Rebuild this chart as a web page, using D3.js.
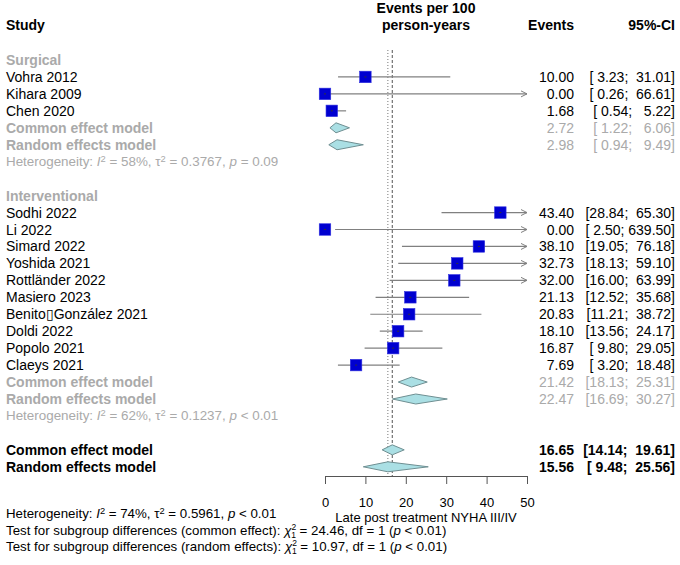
<!DOCTYPE html>
<html>
<head>
<meta charset="utf-8">
<script src="https://cdn.jsdelivr.net/npm/d3@7"></script>
<style>
  body { margin: 0; background: #fff; }
  svg text { font-family: "Liberation Sans", Arial, sans-serif; white-space: pre; }
</style>
</head>
<body>
<div id="chart"></div>
<script>
// forest plot values
const surgicalStudies = ["Vohra 2012", "Kihara 2009", "Chen 2020"];
const surgicalEst   = [10.00, 0.00, 1.68];
const surgicalLower = [3.23, 0.26, 0.54];
const surgicalUpper = [31.01, 66.61, 5.22];

const interventionalStudies = ["Sodhi 2022", "Li 2022", "Simard 2022", "Yoshida 2021", "Rottländer 2022",
    "Masiero 2023", "Benito\u25AFGonzález 2021", "Doldi 2022", "Popolo 2021", "Claeys 2021"];
const interventionalEst   = [43.40, 0.00, 38.10, 32.73, 32.00, 21.13, 20.83, 18.10, 16.87, 7.69];
const interventionalLower = [28.84, 2.50, 19.05, 18.13, 16.00, 12.52, 11.21, 13.56, 9.80, 3.20];
const interventionalUpper = [65.30, 639.50, 76.18, 59.10, 63.99, 35.68, 38.72, 24.17, 29.05, 18.48];

// [estimate, lower, upper]
const surgicalCommon = [2.72, 1.22, 6.06];
const surgicalRandom = [2.98, 0.94, 9.49];
const interventionalCommon = [21.42, 18.13, 25.31];
const interventionalRandom = [22.47, 16.69, 30.27];
const overallCommon = [16.65, 14.14, 19.61];
const overallRandom = [15.56, 9.48, 25.56];

const xTicks = [0, 10, 20, 30, 40, 50];

const W = 680, H = 565;
const svg = d3.select("#chart").append("svg").attr("width", W).attr("height", H);

const x = d3.scaleLinear().domain([0, 50]).range([325, 527]);
const rowY = i => 60 + i * 16.95;
const grey = "#aaaaaa";
const fmt = d3.format(".2f");
const ciText = (lo, hi) => "[" + fmt(lo).padStart(5) + "; " + fmt(hi).padStart(6) + "]";

// rows of the table
const rows = [];
rows.push({ label: "Surgical", kind: "group" });
surgicalStudies.forEach((s, i) => rows.push({ label: s, kind: "study", v: [surgicalEst[i], surgicalLower[i], surgicalUpper[i]] }));
rows.push({ label: "Common effect model", kind: "sub", v: surgicalCommon });
rows.push({ label: "Random effects model", kind: "sub", v: surgicalRandom });
rows.push({ kind: "het", parts: [["Heterogeneity: "], ["I", "i"], ["2", "sup"], [" = 58%, "], ["\u03C4"], ["2", "sup"], [" = 0.3767, "], ["p", "i"], [" = 0.09"]], color: grey });
rows.push({ kind: "blank" });
rows.push({ label: "Interventional", kind: "group" });
interventionalStudies.forEach((s, i) => rows.push({ label: s, kind: "study", v: [interventionalEst[i], interventionalLower[i], interventionalUpper[i]] }));
rows.push({ label: "Common effect model", kind: "sub", v: interventionalCommon });
rows.push({ label: "Random effects model", kind: "sub", v: interventionalRandom });
rows.push({ kind: "het", parts: [["Heterogeneity: "], ["I", "i"], ["2", "sup"], [" = 62%, "], ["\u03C4"], ["2", "sup"], [" = 0.1237, "], ["p", "i"], [" < 0.01"]], color: grey });
rows.push({ kind: "blank" });
rows.push({ label: "Common effect model", kind: "overall", v: overallCommon });
rows.push({ label: "Random effects model", kind: "overall", v: overallRandom });

// reference lines (random dotted, common dashed)
svg.append("line").attr("x1", x(overallRandom[0])).attr("x2", x(overallRandom[0]))
    .attr("y1", 50).attr("y2", 476).attr("stroke", "#777").attr("stroke-dasharray", "1,2");
svg.append("line").attr("x1", x(overallCommon[0])).attr("x2", x(overallCommon[0]))
    .attr("y1", 50).attr("y2", 476).attr("stroke", "#555").attr("stroke-dasharray", "3,2");

// header
const head = svg.append("g").attr("font-weight", "bold").attr("font-size", 14);
head.append("text").attr("x", 6).attr("y", 30).text("Study");
head.append("text").attr("x", 426).attr("y", 13).attr("text-anchor", "middle").text("Events per 100");
head.append("text").attr("x", 426).attr("y", 30).attr("text-anchor", "middle").text("person-years");
head.append("text").attr("x", 574).attr("y", 30).attr("text-anchor", "end").text("Events");
head.append("text").attr("x", 675).attr("y", 30).attr("text-anchor", "end").text("95%-CI");

function richText(g, parts, xPos, yPos, size, color) {
    const t = g.append("text").attr("x", xPos).attr("y", yPos).attr("font-size", size).attr("fill", color);
    parts.forEach(p => {
        const ts = t.append("tspan").text(p[0]);
        if (p[1] === "i") ts.attr("font-style", "italic");
        if (p[1] === "sup") ts.attr("font-size", size * 0.7).attr("baseline-shift", "45%");
    });
    return t;
}

const arrowHead = (g, xe, y) => g.append("path")
    .attr("d", `M${xe - 6},${y - 3}L${xe},${y}L${xe - 6},${y + 3}`)
    .attr("fill", "none").attr("stroke", "#808080");

const body = svg.append("g");
rows.forEach((r, i) => {
    const y = rowY(i);
    if (r.kind === "blank") return;
    if (r.kind === "het") {
        richText(body, r.parts, 6, y + 4, 13.4, r.color);
        return;
    }
    const col = (r.kind === "group" || r.kind === "sub") ? grey : "#000";
    const bold = r.kind !== "study";
    body.append("text").attr("x", 6).attr("y", y + 5).attr("font-size", 14)
        .attr("font-weight", bold ? "bold" : null).attr("fill", col).text(r.label);
    if (!r.v) return;

    const [est, lo, hi] = r.v;
    body.append("text").attr("x", 574).attr("y", y + 5).attr("text-anchor", "end").attr("font-size", 14)
        .attr("font-weight", r.kind === "overall" ? "bold" : null).attr("fill", col).text(fmt(est));
    body.append("text").attr("x", 675).attr("y", y + 5).attr("text-anchor", "end").attr("font-size", 14)
        .attr("font-weight", r.kind === "overall" ? "bold" : null).attr("fill", col).text(ciText(lo, hi));

    if (r.kind === "study") {
        const xe = x(Math.min(hi, 50));
        body.append("line").attr("x1", x(lo)).attr("x2", xe).attr("y1", y).attr("y2", y)
            .attr("stroke", "#808080").attr("stroke-width", 1.2);
        if (hi > 50) arrowHead(body, xe, y);
        const s = 11.5;
        body.append("rect").attr("x", x(est) - s / 2).attr("y", y - s / 2).attr("width", s).attr("height", s)
            .attr("fill", "#0000d0").attr("stroke", "#3030e0").attr("stroke-width", 0.6);
        body.append("line").attr("x1", x(est) - 1).attr("x2", x(est) + 1).attr("y1", y).attr("y2", y)
            .attr("stroke", "#333").attr("stroke-width", 1);
    } else {
        const h = 5;
        body.append("path")
            .attr("d", `M${x(lo)},${y}L${x(est)},${y - h}L${x(hi)},${y}L${x(est)},${y + h}Z`)
            .attr("fill", "#aadfe4").attr("stroke", "#6f8f92").attr("stroke-width", 1);
    }
});

// x axis
const axis = svg.append("g").attr("transform", "translate(0,476)")
    .call(d3.axisBottom(x).tickValues(xTicks).tickSize(8).tickSizeOuter(0).tickFormat(d3.format("d")));
axis.select(".domain").attr("stroke", "#555");
axis.selectAll(".tick line").attr("stroke", "#555");
axis.selectAll(".tick text").attr("font-size", 13).attr("fill", "#000").attr("dy", "1.55em")
    .style("font-family", '"Liberation Sans", Arial, sans-serif');
svg.append("text").attr("x", 426).attr("y", 522).attr("text-anchor", "middle").attr("font-size", 13)
    .text("Late post treatment NYHA III/IV");

// bottom notes
richText(svg, [["Heterogeneity: "], ["I", "i"], ["2", "sup"], [" = 74%, "], ["\u03C4"], ["2", "sup"], [" = 0.5961, "], ["p", "i"], [" < 0.01"]], 6, 518, 13.3, "#000");

function chiLine(prefix, df, stat, yPos) {
    const t = svg.append("text").attr("x", 6).attr("y", yPos).attr("font-size", 13.3);
    t.append("tspan").text(prefix);
    t.append("tspan").attr("font-style", "italic").text("\u03C7");
    t.append("tspan").attr("font-size", 8.5).attr("dy", -5).text("2");
    t.append("tspan").attr("font-size", 8.5).attr("dx", -5).attr("dy", 8).text(df);
    t.append("tspan").attr("dy", -3).text(" = " + stat + ", df = " + df + " (");
    t.append("tspan").attr("font-style", "italic").text("p");
    t.append("tspan").text(" < 0.01)");
}
chiLine("Test for subgroup differences (common effect): ", 1, "24.46", 535);
chiLine("Test for subgroup differences (random effects): ", 1, "10.97", 551);
</script>
</body>
</html>
